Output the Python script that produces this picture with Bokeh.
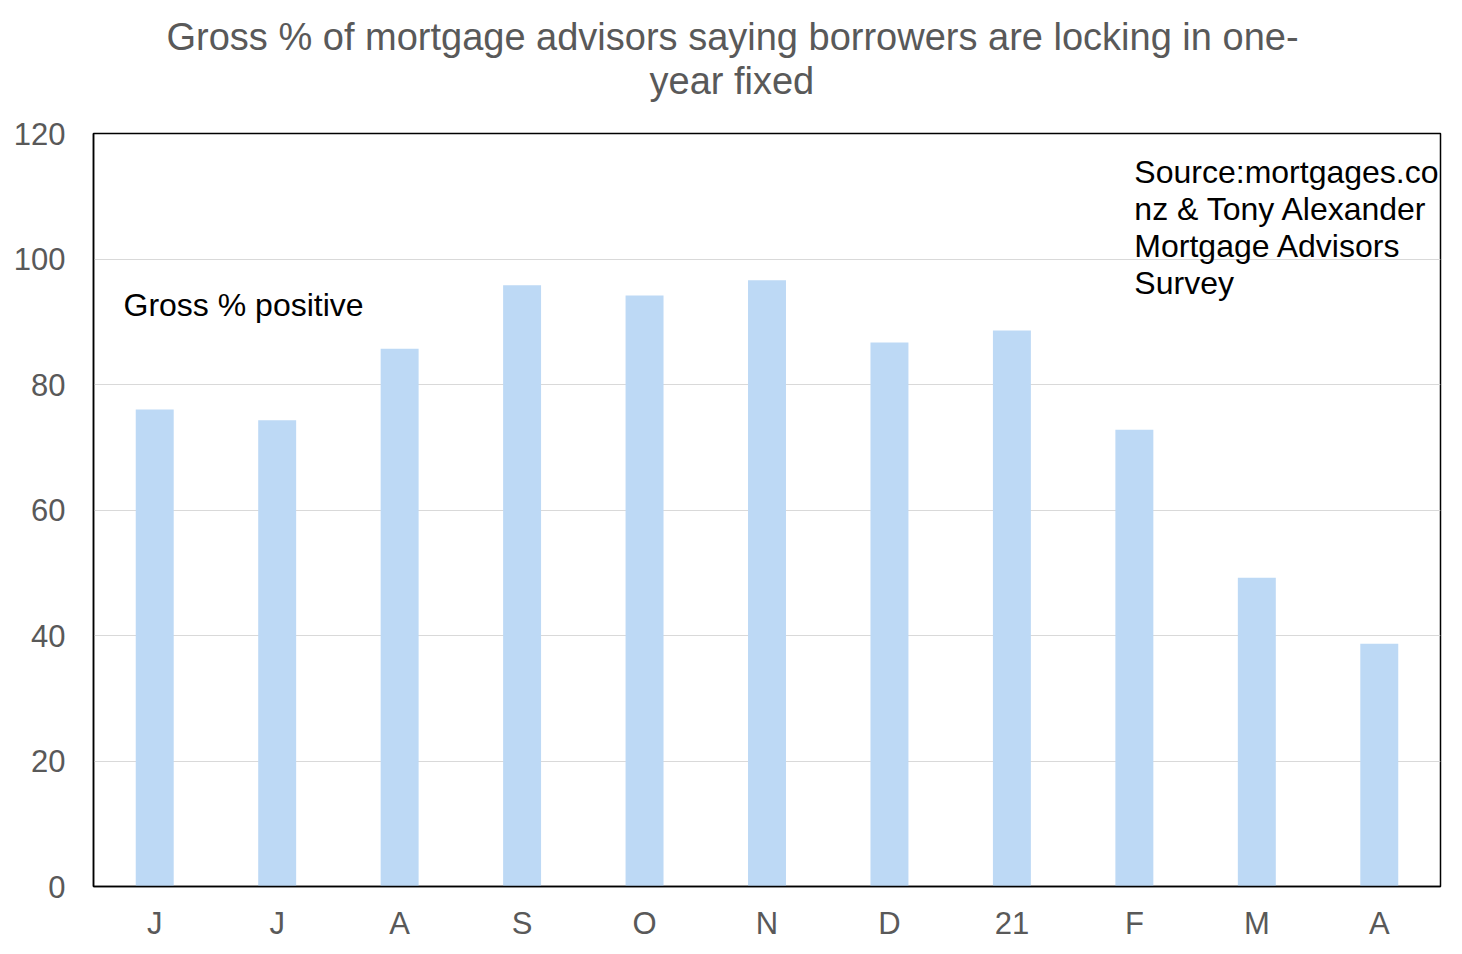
from bokeh.plotting import figure
from bokeh.models import Label, Title, FixedTicker, Range1d
from bokeh.embed import file_html
from bokeh.resources import INLINE

months = ["J", "J", "A", "S", "O", "N", "D", "21", "F", "M", "A"]
gross_positive = [76.0, 74.3, 85.7, 95.8, 94.2, 96.6, 86.7, 88.6, 72.8, 49.2, 38.7]
y_ticks = [0, 20, 40, 60, 80, 100, 120]
title_lines = ["Gross % of mortgage advisors saying borrowers are locking in one-", "year fixed"]
series_label = "Gross % positive"
source_lines = ["Source:mortgages.co.", "nz & Tony Alexander", "Mortgage Advisors", "Survey"]

FONT = "Liberation Sans"
GREY = "#595959"

xs = list(range(len(months)))

p = figure(frame_width=1347, frame_height=753, output_backend="svg", toolbar_location=None,
           x_range=Range1d(-0.5, len(months) - 0.5), y_range=Range1d(0, 120),
           min_border_left=93, min_border_right=14, min_border_top=133, min_border_bottom=55)
p.title.text = ""
p.title.visible = False

# spacer closest to the frame, then the two title lines stacked outward
p.add_layout(Title(text=" ", align="left", text_font=FONT, text_font_size="27px",
                   text_color="white", standoff=0), "above")
p.add_layout(Title(text=title_lines[1], align="left", text_font=FONT, text_font_size="38px",
                   text_font_style="normal", text_color=GREY, offset=556, standoff=0), "above")
p.add_layout(Title(text=title_lines[0], align="left", text_font=FONT, text_font_size="38px",
                   text_font_style="normal", text_color=GREY, offset=73, standoff=0), "above")

p.vbar(x=xs, top=gross_positive, width=0.31, fill_color="#BDD9F5", line_color=None)

p.xaxis.ticker = FixedTicker(ticks=xs)
p.xaxis.major_label_overrides = {i: m for i, m in enumerate(months)}
p.yaxis.ticker = FixedTicker(ticks=y_ticks)
for ax in (p.xaxis, p.yaxis):
    ax.major_label_text_font = FONT
    ax.major_label_text_font_size = "31px"
    ax.major_label_text_color = GREY
    ax.major_tick_line_color = None
    ax.minor_tick_line_color = None
    ax.axis_line_color = "black"
    ax.axis_line_width = 1.5
p.yaxis.major_label_standoff = 22
p.xaxis.major_label_standoff = 13

p.xgrid.grid_line_color = None
p.ygrid.grid_line_color = "#D9D9D9"
p.ygrid.grid_line_width = 1.2
p.outline_line_color = "black"
p.outline_line_width = 1.5
p.outline_line_alpha = 1.0

p.add_layout(Label(x=-0.255, y=92.7, text=series_label, text_font=FONT, text_font_size="32px",
                   text_color="black", text_baseline="middle", text_align="left"))

src_top = 113.8
src_step = 5.9
for k, line in enumerate(source_lines):
    p.add_layout(Label(x=8.0, y=src_top - k * src_step, text=line, text_font=FONT,
                       text_font_size="32px", text_color="black",
                       text_baseline="middle", text_align="left"))

open("out.html", "w").write(file_html(p, INLINE))
